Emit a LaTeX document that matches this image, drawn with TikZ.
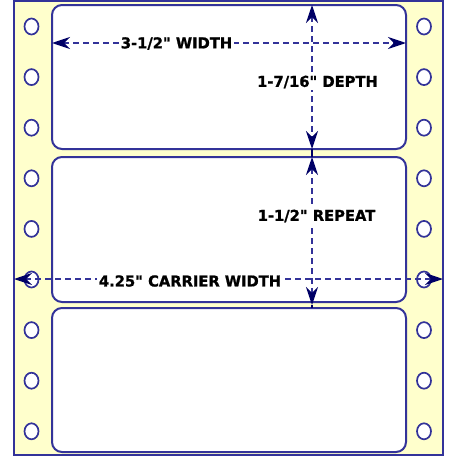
\documentclass[tikz,border=0pt]{standalone}
\usepackage{fontspec}
\setmainfont{DejaVu Sans}[FakeStretch=0.98,BoldFeatures={FakeBold=1.2}]
\usetikzlibrary{arrows.meta}
\definecolor{carrier}{HTML}{FFFFCC}
\definecolor{rule}{HTML}{333399}
\definecolor{tipnavy}{HTML}{000066}
\tikzset{
  tagbox/.style={draw=rule, fill=white, line width=2pt, rounded corners=10pt,
    minimum width=354pt, inner sep=0pt},
  hole/.style={draw=rule, fill=white, line width=1.7pt},
  dimline/.style={draw=rule, line width=2pt, dash pattern=on 6pt off 4pt,
    {Stealth[length=18pt,width=12pt,inset=6pt,color=tipnavy]}-{Stealth[length=18pt,width=12pt,inset=6pt,color=tipnavy]}},
  dimtext/.style={fill=white, text=black, inner sep=2pt,
    font=\bfseries\fontsize{15}{15}\selectfont}
}
\begin{document}
\begin{tikzpicture}[x=1pt,y=-1pt]
		\useasboundingbox[fill=white] (0,0) rectangle (458,458);
		% carrier strip
		\draw[fill=carrier,draw=rule,line width=2.5pt] (14,1.2) rectangle (443,455);
		% labels
		\node[tagbox,minimum height=144pt] (tag1) at (229,77) {};
		\node[tagbox,minimum height=145pt] (tag2) at (229,229.5) {};
		\node[tagbox,minimum height=144pt] (tag3) at (229,380) {};
		% pin feed holes
		\foreach \y in {0,...,8} {
			\draw[hole] (31.5,26.5+50.6*\y) ellipse (7pt and 8pt);
			\draw[hole] (424,26.5+50.6*\y) ellipse (7pt and 8pt);
		}
		% dimension ends
		\coordinate (wl) at (52,43);
		\coordinate (wr) at (406,43);
		\coordinate (dt) at (312,5);
		\coordinate (db) at (312,149);
		\coordinate (rt) at (312,157);
		\coordinate (rb) at (312,305);
		\coordinate (cl) at (14,279);
		\coordinate (cr) at (443,279);
		% dimension lines
		\draw[dimline] (wl) -- (wr);
		\draw[dimline] (dt) -- (db);
		\draw[draw=tipnavy,line width=2pt] (db) -- (rt);
		\draw[dimline] (rt) -- (rb);
		\draw[draw=tipnavy,line width=2pt] (rb) -- (312,308);
		\draw[dimline] (cl) -- (cr);
		% dimension texts
		\node[dimtext] (wtxt) at (176.5,43.5) {3-1/2\textquotedbl{} WIDTH};
		\node[dimtext] (dtxt) at (317.5,82) {1-7/16\textquotedbl{} DEPTH};
		\node[dimtext] (rtxt) at (316.5,216) {1-1/2\textquotedbl{} REPEAT};
		\node[dimtext] (ctxt) at (190,281) {4.25\textquotedbl{} CARRIER WIDTH};
	\end{tikzpicture}
\end{document}
